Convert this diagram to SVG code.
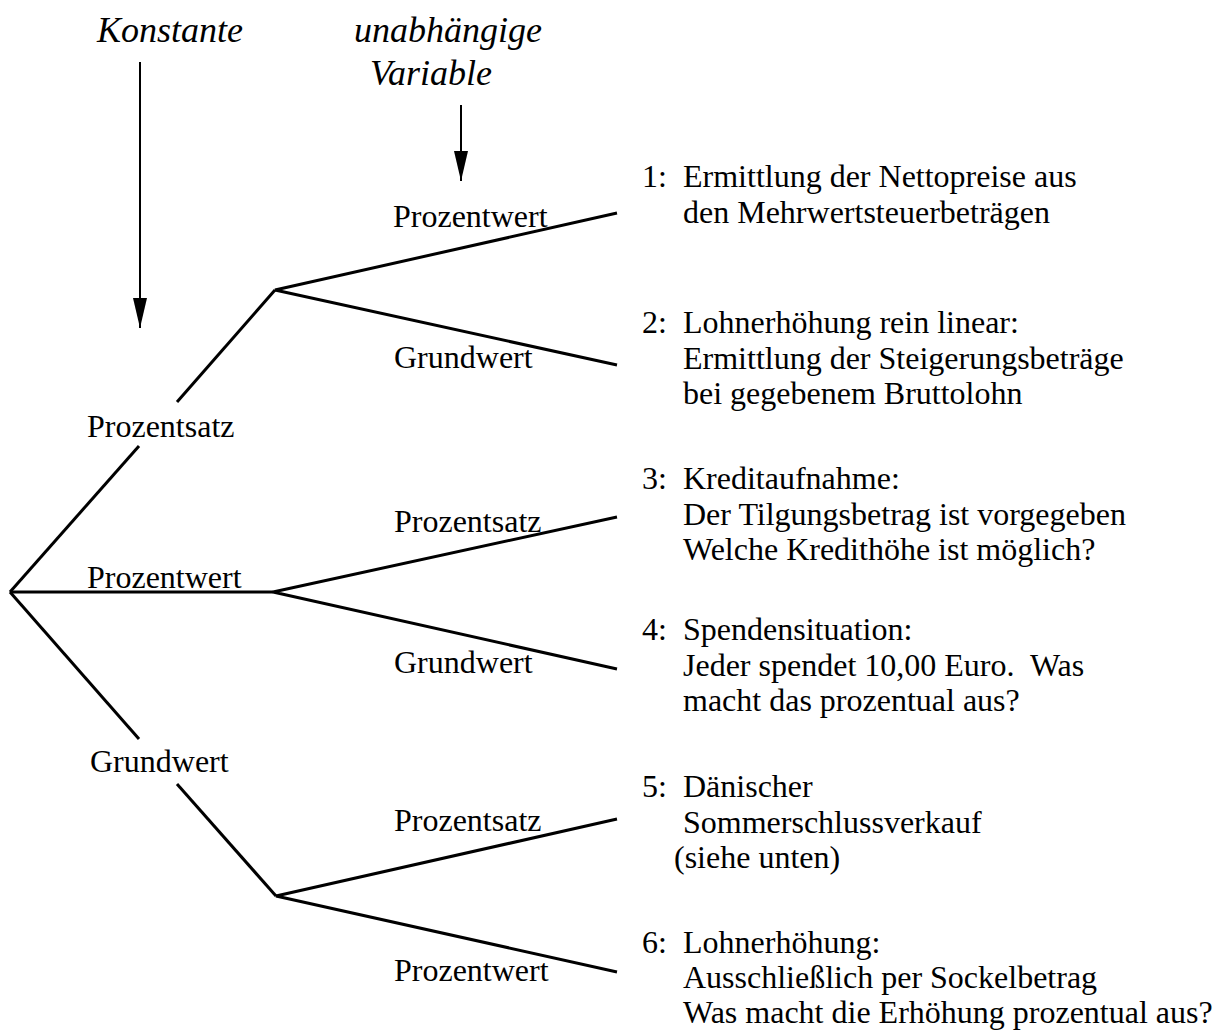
<svg xmlns="http://www.w3.org/2000/svg" width="1224" height="1035" viewBox="0 0 1224 1035">
  <style>
    text { font-family: "Liberation Serif", "Times New Roman", serif; fill: #000; }
    .hd { font-size: 36px; font-style: italic; }
    .lb { font-size: 32px; }
    .it { font-size: 32px; white-space: pre; }
    .edge { fill: none; stroke: #000; stroke-width: 3; stroke-linejoin: miter; }
    .arr { fill: none; stroke: #000; stroke-width: 2; }
  </style>
  <defs>
    <marker id="ah" markerUnits="userSpaceOnUse" viewBox="0 0 30 14" markerWidth="30" markerHeight="14" refX="30" refY="7" orient="auto">
      <path d="M0,0 L30,7 L0,14 z" fill="#000"/>
    </marker>
  </defs>
  <rect width="1224" height="1035" fill="#fff"/>

  <g id="connectors">
    <line class="arr" x1="140" y1="62" x2="140" y2="328" marker-end="url(#ah)"/>
    <line class="arr" x1="461" y1="105" x2="461" y2="181" marker-end="url(#ah)"/>
    <polyline class="edge" points="10,592 139,446"/>
    <polyline class="edge" points="177,402 275,290"/>
    <polyline class="edge" points="617,213 275,290 617,365"/>
    <polyline class="edge" points="10,592 273,592"/>
    <polyline class="edge" points="617,517 273,592 617,669"/>
    <polyline class="edge" points="10,592 139,739"/>
    <polyline class="edge" points="177,784 276,896"/>
    <polyline class="edge" points="617,819 276,896 617,972"/>
  </g>

  <g id="header-konstante"><text class="hd" x="97" y="42">Konstante</text></g>
  <g id="header-variable">
    <text class="hd" x="354" y="42">unabhängige</text>
    <text class="hd" x="370" y="85">Variable</text>
  </g>

  <g id="node-prozentsatz"><text class="lb" x="87" y="437">Prozentsatz</text></g>
  <g id="node-prozentwert"><text class="lb" x="87" y="588">Prozentwert</text></g>
  <g id="node-grundwert"><text class="lb" x="90" y="772">Grundwert</text></g>

  <g id="node-ps-prozentwert"><text class="lb" x="393" y="227">Prozentwert</text></g>
  <g id="node-ps-grundwert"><text class="lb" x="394" y="368">Grundwert</text></g>
  <g id="node-pw-prozentsatz"><text class="lb" x="394" y="532">Prozentsatz</text></g>
  <g id="node-pw-grundwert"><text class="lb" x="394" y="673">Grundwert</text></g>
  <g id="node-gw-prozentsatz"><text class="lb" x="394" y="831">Prozentsatz</text></g>
  <g id="node-gw-prozentwert"><text class="lb" x="394" y="981">Prozentwert</text></g>

  <g id="item-1">
    <text class="it" x="642" y="187">1:</text>
    <text class="it" x="683" y="187">Ermittlung der Nettopreise aus</text>
    <text class="it" x="683" y="223">den Mehrwertsteuerbeträgen</text>
  </g>
  <g id="item-2">
    <text class="it" x="642" y="333">2:</text>
    <text class="it" x="683" y="333">Lohnerhöhung rein linear:</text>
    <text class="it" x="683" y="369">Ermittlung der Steigerungsbeträge</text>
    <text class="it" x="683" y="404">bei gegebenem Bruttolohn</text>
  </g>
  <g id="item-3">
    <text class="it" x="642" y="489">3:</text>
    <text class="it" x="683" y="489">Kreditaufnahme:</text>
    <text class="it" x="683" y="525">Der Tilgungsbetrag ist vorgegeben</text>
    <text class="it" x="683" y="560">Welche Kredithöhe ist möglich?</text>
  </g>
  <g id="item-4">
    <text class="it" x="642" y="640">4:</text>
    <text class="it" x="683" y="640">Spendensituation:</text>
    <text class="it" x="683" y="676">Jeder spendet 10,00 Euro.  Was</text>
    <text class="it" x="683" y="711">macht das prozentual aus?</text>
  </g>
  <g id="item-5">
    <text class="it" x="642" y="797">5:</text>
    <text class="it" x="683" y="797">Dänischer</text>
    <text class="it" x="683" y="833">Sommerschlussverkauf</text>
    <text class="it" x="674" y="868">(siehe unten)</text>
  </g>
  <g id="item-6">
    <text class="it" x="642" y="953">6:</text>
    <text class="it" x="683" y="953">Lohnerhöhung:</text>
    <text class="it" x="683" y="988">Ausschließlich per Sockelbetrag</text>
    <text class="it" x="683" y="1023">Was macht die Erhöhung prozentual aus?</text>
  </g>
</svg>
